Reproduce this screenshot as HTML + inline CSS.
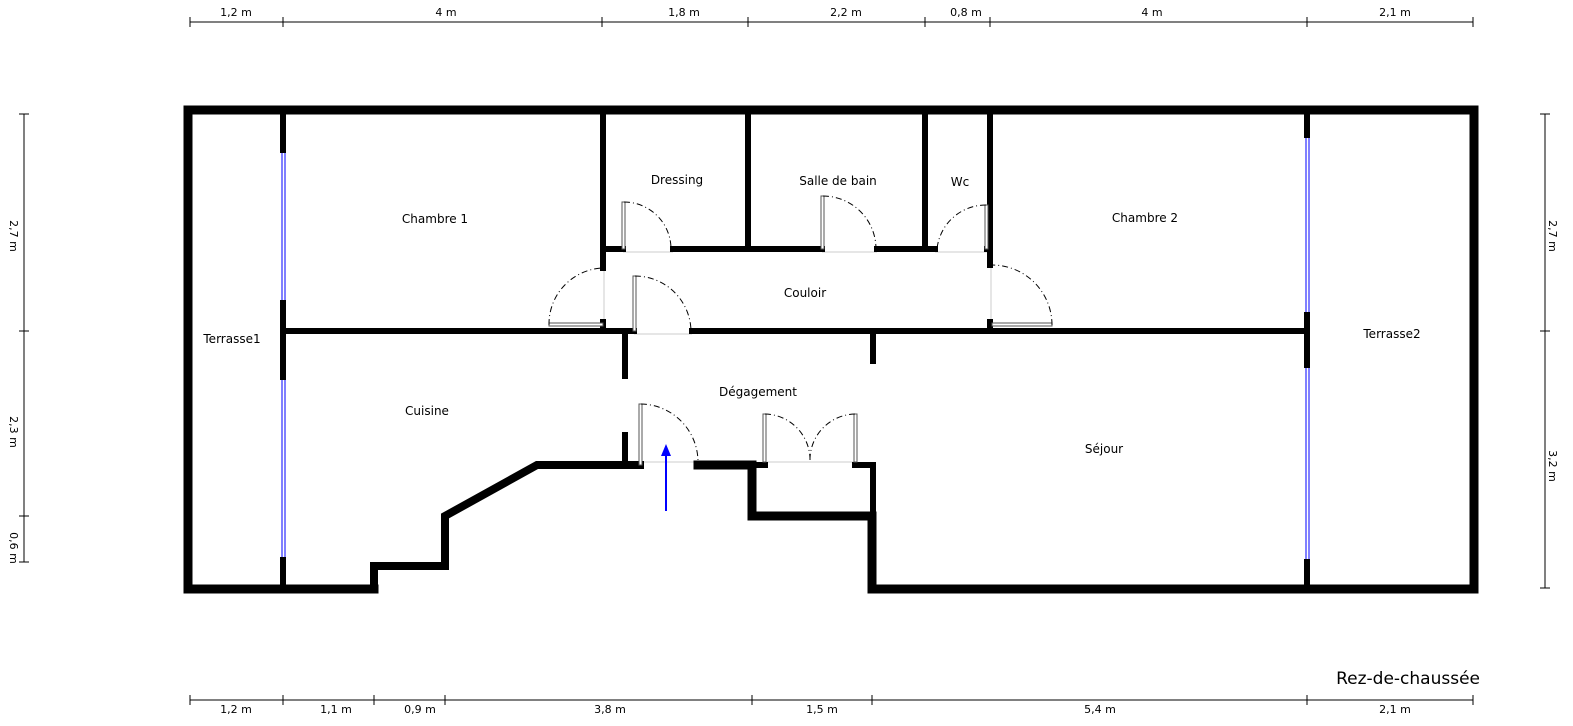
<!DOCTYPE html>
<html><head><meta charset="utf-8"><style>body{margin:0;background:#fff}svg{display:block}text{font-family:"DejaVu Sans","Liberation Sans",sans-serif;fill:#000}</style></head><body>
<svg width="1573" height="726" viewBox="0 0 1573 726" xmlns="http://www.w3.org/2000/svg">
<g stroke="#000" stroke-width="1" fill="none">
<line x1="190" y1="22" x2="1473" y2="22"/>
<g><line x1="190" y1="17" x2="190" y2="27"/><line x1="283" y1="17" x2="283" y2="27"/><line x1="602" y1="17" x2="602" y2="27"/><line x1="748" y1="17" x2="748" y2="27"/><line x1="925" y1="17" x2="925" y2="27"/><line x1="990" y1="17" x2="990" y2="27"/><line x1="1307" y1="17" x2="1307" y2="27"/><line x1="1473" y1="17" x2="1473" y2="27"/></g>
<line x1="190" y1="700" x2="1473" y2="700"/>
<g><line x1="190" y1="695" x2="190" y2="705"/><line x1="283" y1="695" x2="283" y2="705"/><line x1="374" y1="695" x2="374" y2="705"/><line x1="445" y1="695" x2="445" y2="705"/><line x1="752" y1="695" x2="752" y2="705"/><line x1="872" y1="695" x2="872" y2="705"/><line x1="1307" y1="695" x2="1307" y2="705"/><line x1="1473" y1="695" x2="1473" y2="705"/></g>
<line x1="24" y1="114" x2="24" y2="562"/>
<g><line x1="19" y1="114" x2="29" y2="114"/><line x1="19" y1="331" x2="29" y2="331"/><line x1="19" y1="516" x2="29" y2="516"/><line x1="19" y1="562" x2="29" y2="562"/></g>
<line x1="1545" y1="114" x2="1545" y2="588"/>
<g><line x1="1540" y1="114" x2="1550" y2="114"/><line x1="1540" y1="331" x2="1550" y2="331"/><line x1="1540" y1="588" x2="1550" y2="588"/></g>
</g>
<g font-size="11" text-anchor="middle">
<text x="236" y="16">1,2 m</text><text x="446" y="16">4 m</text><text x="684" y="16">1,8 m</text><text x="846" y="16">2,2 m</text><text x="966" y="16">0,8 m</text><text x="1152" y="16">4 m</text><text x="1395" y="16">2,1 m</text>
<text x="236" y="713">1,2 m</text><text x="336" y="713">1,1 m</text><text x="420" y="713">0,9 m</text><text x="610" y="713">3,8 m</text><text x="822" y="713">1,5 m</text><text x="1100" y="713">5,4 m</text><text x="1395" y="713">2,1 m</text>
<text transform="translate(10,236) rotate(90)">2,7 m</text>
<text transform="translate(10,432) rotate(90)">2,3 m</text>
<text transform="translate(10,548) rotate(90)">0,6 m</text>
<text transform="translate(1549,236) rotate(90)">2,7 m</text>
<text transform="translate(1549,466) rotate(90)">3,2 m</text>
</g>
<!-- light opening lines -->
<g stroke="#ccc" stroke-width="1">
<line x1="623" y1="252" x2="673" y2="252"/><line x1="822" y1="252" x2="877" y2="252"/><line x1="935" y1="252" x2="987" y2="252"/>
<line x1="604" y1="268" x2="604" y2="325"/><line x1="991" y1="265" x2="991" y2="325"/>
<line x1="634" y1="334" x2="692" y2="334"/><line x1="640" y1="462" x2="698" y2="462"/><line x1="765" y1="462" x2="855" y2="462"/>
</g>
<!-- windows -->
<g stroke="#00f" stroke-width="1">
<line x1="282" y1="150" x2="282" y2="303"/><line x1="285" y1="150" x2="285" y2="303"/>
<line x1="282" y1="377" x2="282" y2="560"/><line x1="285" y1="377" x2="285" y2="560"/>
<line x1="1306" y1="135" x2="1306" y2="315"/><line x1="1309" y1="135" x2="1309" y2="315"/>
<line x1="1306" y1="365" x2="1306" y2="562"/><line x1="1309" y1="365" x2="1309" y2="562"/>
</g>
<!-- walls -->
<g stroke="#000" fill="none" stroke-linejoin="miter" stroke-linecap="square">
<polyline stroke-width="9" points="374,589 188,589 188,110 1474,110 1474,589 872,589 872,516 752,516 752,465 698,465"/>
<polyline stroke-width="8" points="640,465 537,465 445,516 445,566 374,566 374,589"/>
<g stroke-width="6">
<line x1="283" y1="115" x2="283" y2="150"/><line x1="283" y1="303" x2="283" y2="377"/><line x1="283" y1="560" x2="283" y2="587"/>
<line x1="1307" y1="115" x2="1307" y2="135"/><line x1="1307" y1="315" x2="1307" y2="365"/><line x1="1307" y1="562" x2="1307" y2="587"/>
<line x1="283" y1="331" x2="634" y2="331"/><line x1="692" y1="331" x2="1307" y2="331"/>
<line x1="603" y1="115" x2="603" y2="268"/><line x1="603" y1="322" x2="603" y2="331"/>
<line x1="990" y1="115" x2="990" y2="265"/><line x1="990" y1="322" x2="990" y2="331"/>
<line x1="748" y1="115" x2="748" y2="249"/><line x1="925" y1="115" x2="925" y2="249"/>
<line x1="603" y1="249" x2="623" y2="249"/><line x1="673" y1="249" x2="822" y2="249"/><line x1="877" y1="249" x2="935" y2="249"/><line x1="987" y1="249" x2="990" y2="249"/>
<line x1="625" y1="331" x2="625" y2="376"/><line x1="873" y1="331" x2="873" y2="361"/><line x1="625" y1="435" x2="625" y2="465"/>
<line x1="752" y1="465" x2="765" y2="465"/><line x1="855" y1="465" x2="873" y2="465"/><line x1="873" y1="465" x2="873" y2="516"/>
</g>
</g>
<!-- doors -->
<g stroke="#555" stroke-width="1" fill="#fff">
<rect x="622" y="202" width="3" height="47"/><rect x="821" y="196" width="3" height="53"/><rect x="985" y="205" width="3" height="44"/>
<rect x="633" y="276" width="3" height="55"/><rect x="549" y="323" width="54" height="3"/><rect x="992" y="323" width="60" height="3"/>
<rect x="639" y="404" width="3" height="61"/><rect x="763" y="414" width="3" height="48"/><rect x="854" y="414" width="3" height="48"/>
</g>
<g stroke="#000" stroke-width="1" fill="none" stroke-dasharray="6,3,1,3">
<path d="M624,202 A47,47 0 0 1 671,249"/>
<path d="M823,196 A53,53 0 0 1 876,249"/>
<path d="M986,205 A49,49 0 0 0 937,249"/>
<path d="M635,276 A56,56 0 0 1 691,331"/>
<path d="M549,325 A56,56 0 0 1 603,268"/>
<path d="M1052,325 A60,60 0 0 0 992,265"/>
<path d="M641,404 A58,58 0 0 1 698,462"/>
<path d="M765,414 A46,46 0 0 1 810,462"/>
<path d="M855,414 A46,46 0 0 0 810,462"/>
</g>
<!-- arrow -->
<line x1="666" y1="511" x2="666" y2="455" stroke="#00f" stroke-width="2"/>
<polygon points="666,444 661,456 671,456" fill="#00f"/>
<g font-size="12" text-anchor="middle">
<text x="435" y="223">Chambre 1</text><text x="677" y="184">Dressing</text><text x="838" y="185">Salle de bain</text><text x="960" y="186">Wc</text>
<text x="1145" y="222">Chambre 2</text><text x="805" y="297">Couloir</text><text x="232" y="343">Terrasse1</text><text x="1392" y="338">Terrasse2</text>
<text x="758" y="396">Dégagement</text><text x="427" y="415">Cuisine</text><text x="1104" y="453">Séjour</text>
</g>
<text x="1480" y="684" font-size="17" text-anchor="end">Rez-de-chaussée</text>
</svg>
</body></html>
